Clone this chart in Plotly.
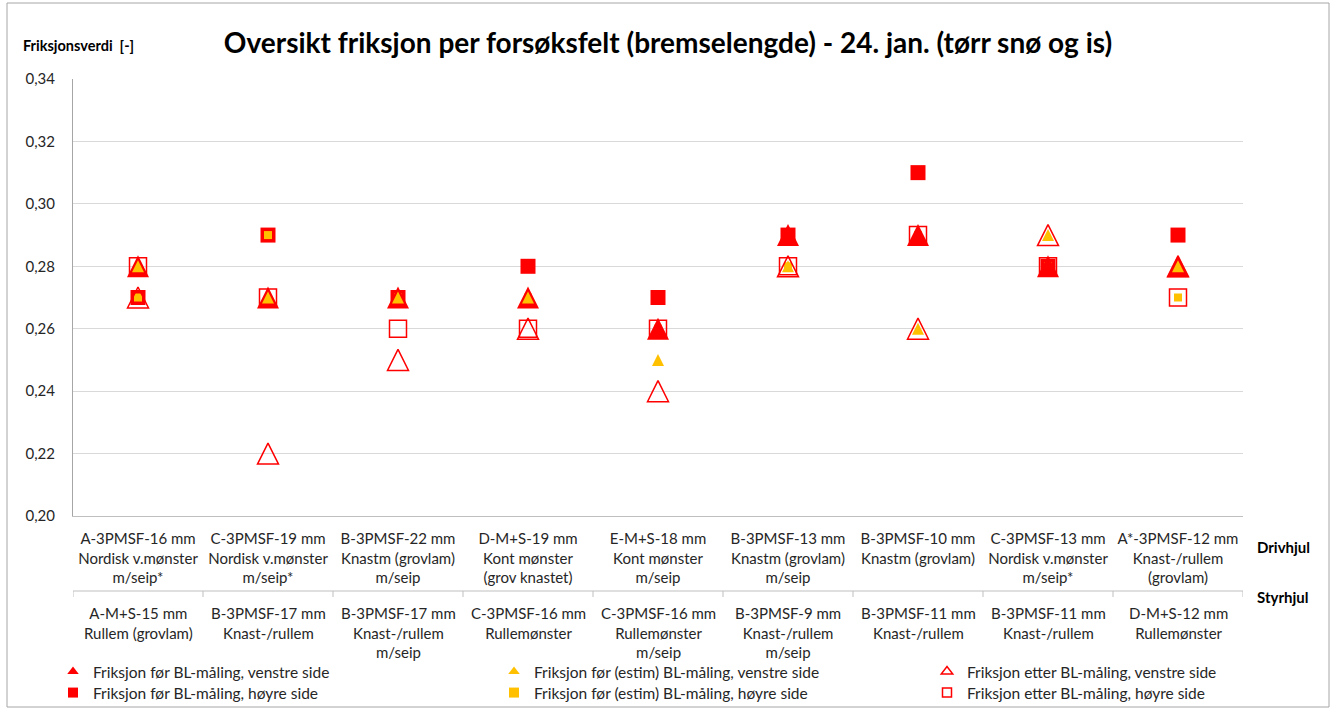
import plotly.graph_objects as go

# ---------------- data ----------------
drive_wheel = [
    "A-3PMSF-16 mm<br>Nordisk v.mønster<br>m/seip*",
    "C-3PMSF-19 mm<br>Nordisk v.mønster<br>m/seip*",
    "B-3PMSF-22 mm<br>Knastm (grovlam)<br>m/seip",
    "D-M+S-19 mm<br>Kont mønster<br>(grov knastet)",
    "E-M+S-18 mm<br>Kont mønster<br>m/seip",
    "B-3PMSF-13 mm<br>Knastm (grovlam)<br>m/seip",
    "B-3PMSF-10 mm<br>Knastm (grovlam)",
    "C-3PMSF-13 mm<br>Nordisk v.mønster<br>m/seip*",
    "A*-3PMSF-12 mm<br>Knast-/rullem<br>(grovlam)",
]
steer_wheel = [
    "A-M+S-15 mm<br>Rullem (grovlam)",
    "B-3PMSF-17 mm<br>Knast-/rullem",
    "B-3PMSF-17 mm<br>Knast-/rullem<br>m/seip",
    "C-3PMSF-16 mm<br>Rullemønster",
    "C-3PMSF-16 mm<br>Rullemønster<br>m/seip",
    "B-3PMSF-9 mm<br>Knast-/rullem<br>m/seip",
    "B-3PMSF-11 mm<br>Knast-/rullem",
    "B-3PMSF-11 mm<br>Knast-/rullem",
    "D-M+S-12 mm<br>Rullemønster",
]
for_venstre = [0.28, 0.27, 0.27, 0.27, 0.26, 0.29, 0.29, 0.28, 0.28]
estim_venstre = [0.28, 0.27, 0.27, 0.27, 0.25, 0.28, 0.26, 0.29, 0.28]
etter_venstre = [0.27, 0.22, 0.25, 0.26, 0.24, 0.28, 0.26, 0.29, 0.28]
for_hoyre = [0.27, 0.29, 0.27, 0.28, 0.27, 0.29, 0.31, 0.28, 0.29]
estim_hoyre = [0.27, 0.29, 0.27, 0.27, 0.26, 0.28, 0.29, 0.28, 0.27]
etter_hoyre = [0.28, 0.27, 0.26, 0.26, 0.26, 0.28, 0.29, 0.28, 0.27]

names = [
    "Friksjon før BL-måling, venstre side",
    "Friksjon før (estim) BL-måling, venstre side",
    "Friksjon etter BL-måling, venstre side",
    "Friksjon før BL-måling, høyre side",
    "Friksjon før (estim) BL-måling, høyre side",
    "Friksjon etter BL-måling, høyre side",
]
y_ticks = [0.20, 0.22, 0.24, 0.26, 0.28, 0.30, 0.32, 0.34]

# ---------------- layout constants ----------------
W, H = 1335, 711
L, R, T, B = 73, 1243, 79, 516
YMIN, YMAX = 0.20, 0.34
PX_PER_UNIT = (B - T) / (YMAX - YMIN)
FONT = "Lato, Open Sans, sans-serif"
RED = "#FF0000"
GOLD = "#FFC000"
TXT = "#262626"

xs = list(range(len(drive_wheel)))


def px_to_paper_x(px):
    return (px - L) / (R - L)


def px_to_paper_y(py):
    return (B - py) / (B - T)


fig = go.Figure()

# series definitions: (values, symbol, size, color, line width, axis key)
series = [
    (for_venstre, "arrow-up", 22, RED, 0, "tri22"),
    (estim_venstre, "arrow-up", 12, GOLD, 0, "tri12"),
    (etter_venstre, "arrow-up-open", 21, RED, 1.5, "tri21"),
    (for_hoyre, "square", 15, RED, 0, None),
    (estim_hoyre, "square", 8, GOLD, 0, None),
    (etter_hoyre, "square-open", 17, RED, 1.5, None),
]
axis_map = {None: "y", "tri22": "y2", "tri12": "y3", "tri21": "y4"}
axis_size = {"tri22": 22, "tri12": 12, "tri21": 21}

for (vals, sym, size, col, lw, ax), nm in zip(series, names):
    fig.add_trace(go.Scatter(
        x=xs, y=vals, mode="markers", name=nm, showlegend=False,
        legendgroup=nm, yaxis=axis_map[ax],
        marker=dict(symbol=sym, size=size, color=col,
                    line=dict(width=lw, color=col)),
        hovertemplate="%{y:.2f}<extra>" + nm + "</extra>",
    ))

# legend entries: one single-entry legend per cell of a 3 x 2 grid
legend_specs = [
    ("triangle-up", 10, RED, 0),
    ("triangle-up", 10, GOLD, 0),
    ("triangle-up-open", 10, RED, 1.5),
    ("square", 10, RED, 0),
    ("square", 10, GOLD, 0),
    ("square-open", 9, RED, 1.5),
]
legend_cols = [53, 494, 927]     # px, left edge of each legend column
legend_rows = [655, 676]         # px, top of each legend row
legend_layout = {}
for i, ((sym, size, col, lw), nm) in enumerate(zip(legend_specs, names)):
    key = "legend" if i == 0 else f"legend{i + 1}"
    fig.add_trace(go.Scatter(
        x=[None], y=[None], mode="markers", name=nm, legendgroup=nm, legend=key,
        marker=dict(symbol=sym, size=size, color=col, line=dict(width=lw, color=col)),
    ))
    legend_layout[key] = dict(
        orientation="h", xref="container", yref="container",
        x=legend_cols[i % 3] / W, xanchor="left",
        y=1 - legend_rows[i // 3] / H, yanchor="top",
        font=dict(family=FONT, size=15.5, color=TXT),
        bgcolor="rgba(0,0,0,0)", itemclick=False, itemdoubleclick=False,
    )

fig.update_layout(
    width=W, height=H,
    margin=dict(l=L, r=W - R, t=T, b=H - B, pad=0),
    paper_bgcolor="white", plot_bgcolor="white",
    separators=",.",
    font=dict(family=FONT, size=14, color=TXT),
    showlegend=True,
    title=dict(
        text="Oversikt friksjon per forsøksfelt (bremselengde) - 24. jan. (tørr snø og is)",
        x=668 / W, xref="container", xanchor="center",
        y=1 - 43 / H, yref="container", yanchor="middle",
        font=dict(family=FONT, size=28, color="#000000", weight="bold"),
    ),
    xaxis=dict(
        range=[-0.5, len(xs) - 0.5], tickmode="array", tickvals=xs, ticktext=drive_wheel,
        tickangle=0, ticks="", showgrid=False, zeroline=False,
        showline=True, linecolor="#BFBFBF", linewidth=1, mirror=False,
        ticklabelstandoff=9,
        tickfont=dict(family=FONT, size=15, color=TXT),
        automargin=False, fixedrange=True,
    ),
    yaxis=dict(
        range=[YMIN, YMAX], tickmode="array", tickvals=y_ticks, tickformat=".2f",
        showgrid=True, gridcolor="#D9D9D9", gridwidth=1, zeroline=False,
        showline=True, linecolor="#A6A6A6", linewidth=1, ticks="",
        ticklabelstandoff=14,
        tickfont=dict(family=FONT, size=15, color=TXT),
        automargin=False, fixedrange=True,
    ),
    **legend_layout,
)
for key, ax in [("tri22", "yaxis2"), ("tri12", "yaxis3"), ("tri21", "yaxis4")]:
    d = (axis_size[key] / 2) / PX_PER_UNIT
    fig.update_layout(**{ax: dict(overlaying="y", range=[YMIN - d, YMAX - d], visible=False,
                                  fixedrange=True)})

# steering wheel labels (second category row)
for xi, lab in zip(xs, steer_wheel):
    fig.add_annotation(x=xi, xref="x", y=px_to_paper_y(602), yref="paper",
                       text=lab, showarrow=False, xanchor="center", yanchor="top",
                       align="center", font=dict(family=FONT, size=15, color=TXT))

# row titles
fig.add_annotation(x=px_to_paper_x(1255), xref="paper", y=px_to_paper_y(547), yref="paper",
                   text="<b>Drivhjul</b>", showarrow=False, xanchor="left", yanchor="middle",
                   font=dict(family=FONT, size=15, color="#000000"))
fig.add_annotation(x=px_to_paper_x(1255), xref="paper", y=px_to_paper_y(597), yref="paper",
                   text="<b>Styrhjul</b>", showarrow=False, xanchor="left", yanchor="middle",
                   font=dict(family=FONT, size=15, color="#000000"))
# y axis title
fig.add_annotation(x=px_to_paper_x(21), xref="paper", y=px_to_paper_y(46), yref="paper",
                   text="<b>Friksjonsverdi  [-]</b>", showarrow=False, xanchor="left",
                   yanchor="middle", font=dict(family=FONT, size=14.5, color="#000000"))

# separator between category rows, with boundary ticks
sep_y = px_to_paper_y(591)
tick_y = px_to_paper_y(597)
fig.add_shape(type="line", xref="paper", yref="paper", x0=0, x1=1, y0=sep_y, y1=sep_y,
              line=dict(color="#BFBFBF", width=1))
for b in [i - 0.5 for i in range(len(xs) + 1)]:
    fig.add_shape(type="line", xref="x", yref="paper", x0=b, x1=b, y0=sep_y, y1=tick_y,
                  line=dict(color="#BFBFBF", width=1))

# chart border
fig.add_shape(type="rect", xref="paper", yref="paper",
              x0=px_to_paper_x(7), x1=px_to_paper_x(1329),
              y0=px_to_paper_y(707), y1=px_to_paper_y(3),
              line=dict(color="#A6A6A6", width=1), fillcolor="rgba(0,0,0,0)", layer="below")

fig.write_html("out.html", config={"displayModeBar": False},
               post_script="document.body.style.margin='0';document.body.style.overflow='hidden';")
